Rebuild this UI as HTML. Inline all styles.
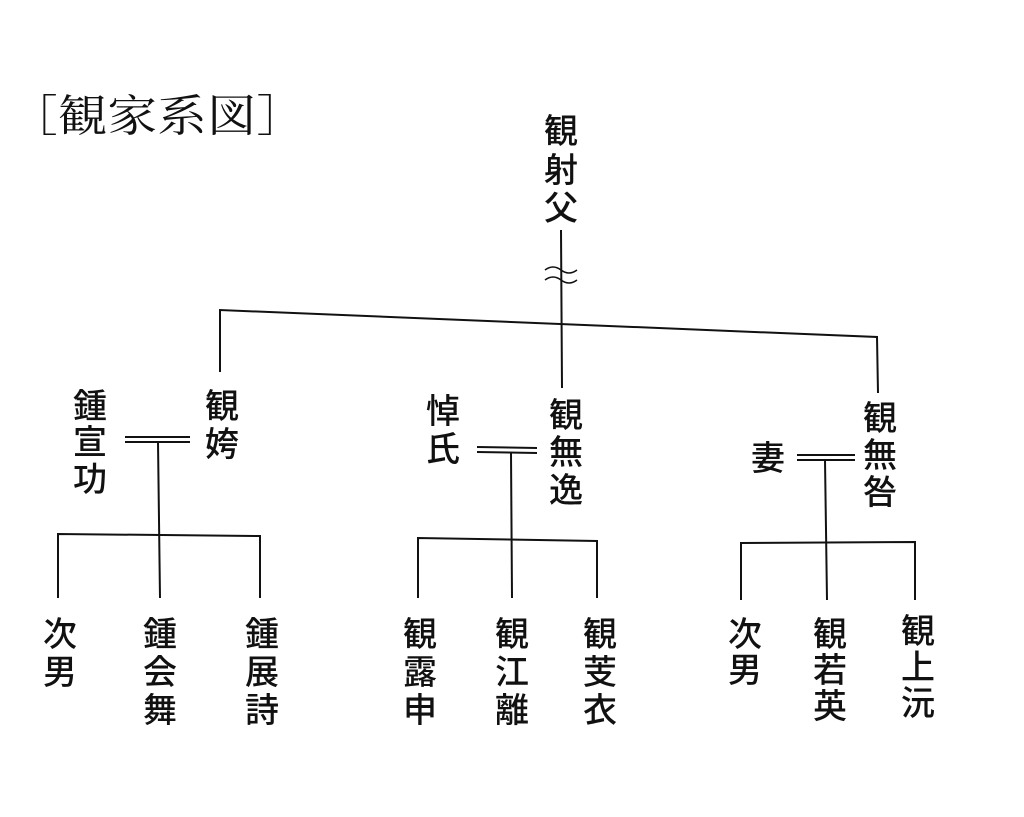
<!DOCTYPE html><html><head><meta charset="utf-8"><style>body{margin:0;background:#fff}svg{display:block}</style></head><body>
<svg width="1024" height="817" viewBox="0 0 1024 817" xmlns="http://www.w3.org/2000/svg">
<g fill="none" stroke="#111" stroke-width="2">
<line x1="561" y1="230" x2="562" y2="388"/>
<path d="M545 270 q8 -6 16 0 t16 0 M545 280 q8 -6 16 0 t16 0" stroke-width="1.5"/>
<polyline points="220,372 220,310 877,337 878,393"/>
<line x1="125" y1="437" x2="190" y2="437"/><line x1="125" y1="442" x2="190" y2="442"/>
<line x1="158" y1="442" x2="160" y2="598"/>
<polyline points="58,598 58,534 260,536 260,598"/>
<line x1="477" y1="447" x2="537" y2="448"/><line x1="477" y1="452" x2="537" y2="453"/>
<line x1="511" y1="453" x2="512" y2="598"/>
<polyline points="418,598 418,538 597,541 597,598"/>
<line x1="797" y1="455" x2="855" y2="455"/><line x1="797" y1="460" x2="855" y2="460"/>
<line x1="825" y1="460" x2="827" y2="600"/>
<polyline points="741,600 741,543 915,542 915,600"/>
</g>
<g font-family="'Liberation Sans','Noto Sans CJK JP',sans-serif" font-size="34" fill="#111" text-anchor="middle" font-weight="500">
<text transform="translate(8,131) scale(1.13,1)" x="0" y="0" text-anchor="start" font-family="'Liberation Serif','Noto Serif CJK SC',serif" font-size="44" font-weight="400">［観家系図］</text>
<text x="561" y="143">観</text><text x="561" y="182">射</text><text x="561" y="220">父</text>
<text x="222" y="418">観</text><text x="222" y="456">姱</text>
<text x="90" y="418">鍾</text><text x="90" y="454">宣</text><text x="90" y="491">功</text>
<text x="443" y="423">悼</text><text x="443" y="461">氏</text>
<text x="566" y="427">観</text><text x="566" y="464">無</text><text x="566" y="502">逸</text>
<text x="768" y="470">妻</text>
<text x="880" y="430">観</text><text x="880" y="467">無</text><text x="880" y="504">咎</text>
<text x="60" y="646">次</text><text x="60" y="684">男</text>
<text x="160" y="646">鍾</text><text x="160" y="684">会</text><text x="160" y="722">舞</text>
<text x="262" y="646">鍾</text><text x="262" y="684">展</text><text x="262" y="722">詩</text>
<text x="420" y="646">観</text><text x="420" y="684">露</text><text x="420" y="722">申</text>
<text x="512" y="646">観</text><text x="512" y="684">江</text><text x="512" y="722">離</text>
<text x="600" y="646">観</text><text x="600" y="684">芰</text><text x="600" y="722">衣</text>
<text x="745" y="646">次</text><text x="745" y="682">男</text>
<text x="830" y="646">観</text><text x="830" y="682">若</text><text x="830" y="718">英</text>
<text x="918" y="643">観</text><text x="918" y="679">上</text><text x="918" y="715">沅</text>
</g>
</svg></body></html>
